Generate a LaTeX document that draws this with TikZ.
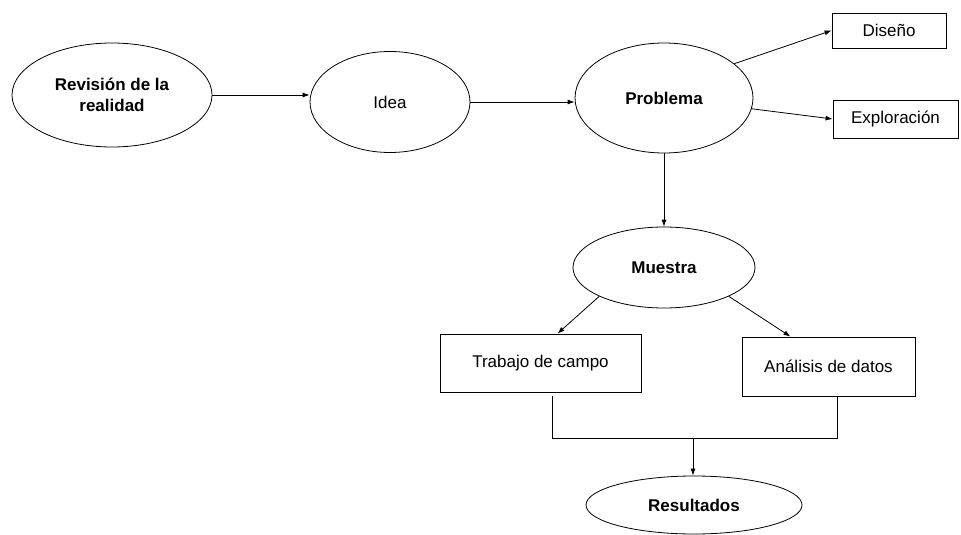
\documentclass[tikz,border=0pt]{standalone}
\usepackage{fontspec}
\setmainfont{Liberation Sans}
\usetikzlibrary{shapes.geometric,arrows.meta}
\begin{document}
\begin{tikzpicture}[x=1pt,y=-1pt,
  every node/.style={font=\fontsize{17}{21}\selectfont},
  oval/.style={draw,ellipse,inner sep=0pt,line width=0.8pt,align=center},
  boldtext/.style={font=\fontsize{17}{21}\selectfont\bfseries},
  boxnode/.style={draw,rectangle,inner sep=0pt,line width=0.8pt},
  conn/.style={line width=0.8pt},
  arr/.style={conn,-{Latex[length=7pt,width=5pt]}}]
\useasboundingbox (0,0) rectangle (961,535);
\node[oval,boldtext,minimum width=200pt,minimum height=104pt] (rev) at (112,95) {Revisión de la\\realidad};
\node[oval,minimum width=160pt,minimum height=101pt] (idea) at (390,102) {Idea};
\node[oval,boldtext,minimum width=178pt,minimum height=110pt] (prob) at (664,98) {Problema};
\node[boxnode,minimum width=114pt,minimum height=35pt] (dis) at (889,30.5) {Diseño};
\node[boxnode,minimum width=125pt,minimum height=38pt] (exp) at (895.5,119) {Exploración};
\node[oval,boldtext,minimum width=182pt,minimum height=81pt] (mue) at (664,267.5) {Muestra};
\node[boxnode,minimum width=201pt,minimum height=58pt] (trab) at (540.5,363) {Trabajo de campo};
\node[boxnode,minimum width=173pt,minimum height=59pt] (anal) at (828.5,366.5) {Análisis de datos};
\node[oval,boldtext,minimum width=216pt,minimum height=58pt] (res) at (694,505) {Resultados};
\coordinate (jl) at (552,438);
\coordinate (jr) at (837,438);
\coordinate (jm) at (693,438);
\draw[arr] (rev.east) -- (rev.east -| idea.west);
\draw[arr] (idea.east) -- (idea.east -| prob.west);
\draw[arr] (prob.26) -- (dis.west);
\draw[arr] (prob.-7) -- (exp.west);
\draw[arr] (prob.south) -- (mue.north);
\draw[arr] (mue.204) -- ([xshift=17pt]trab.north);
\draw[arr] (mue.-24) -- ([xshift=-38pt]anal.north);
\draw[conn] ([xshift=11.5pt,yshift=-4pt]trab.south) -- (jl) -- (jr) -- ([xshift=8.5pt,yshift=-1pt]anal.south);
\draw[arr] (jm) -- (jm |- res.north);
\end{tikzpicture}
\end{document}
